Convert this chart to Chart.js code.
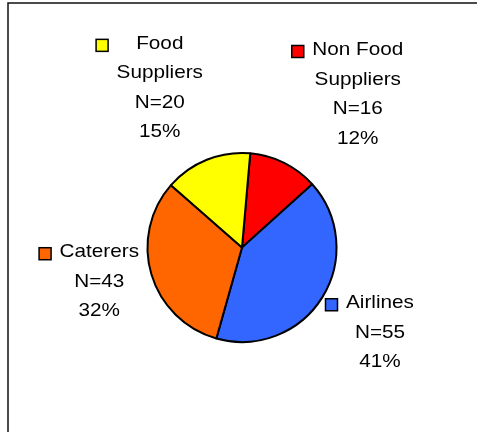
<!DOCTYPE html>
<html>
<head>
<meta charset="utf-8">
<script src="https://cdn.jsdelivr.net/npm/chart.js@4/dist/chart.umd.min.js"></script>
<style>
    html, body { margin: 0; padding: 0; background: #fff; }
    canvas { display: block; }
</style>
</head>
<body>
<canvas id="pieChart" width="477" height="432"></canvas>
<script>
//分类 (顺时针, 从顶部开始)
var categories = ["Non Food Suppliers", "Airlines", "Caterers", "Food Suppliers"];
//标签里的名称分行
var nameLines = [["Non Food", "Suppliers"], ["Airlines"], ["Caterers"], ["Food", "Suppliers"]];
//样本数
var counts = [16, 55, 43, 20];
//扇区颜色
var sliceColors = ["#FF0000", "#3366FF", "#FF6600", "#FFFF00"];

//标签位置 (相对圆心, 以半径为单位)
var labelPlace = [
    { dx: 1.225, dy: -2.09 },
    { dx: 1.46, dy: 0.59 },
    { dx: -1.51, dy: 0.05 },
    { dx: -0.87, dy: -2.155 }
];

//外框
var framePlugin = {
    id: "frame",
    beforeDraw: function (chart) {
        var ctx = chart.ctx;
        ctx.save();
        ctx.fillStyle = "#fff";
        ctx.fillRect(0, 0, chart.width, chart.height);
        ctx.strokeStyle = "#111";
        ctx.lineWidth = 1.5;
        ctx.beginPath();
        ctx.moveTo(8, chart.height);
        ctx.lineTo(8, 3);
        ctx.lineTo(chart.width, 3);
        ctx.stroke();
        ctx.restore();
    }
};

//数据标签 (图例方块 + 名称 + N + 百分比)
var labelPlugin = {
    id: "pieLabels",
    afterDatasetsDraw: function (chart) {
        var ctx = chart.ctx;
        var meta = chart.getDatasetMeta(0);
        var data = chart.data.datasets[0].data;
        var total = data.reduce(function (a, b) { return a + b; }, 0);
        var sx = 1.12, lineH = 29.5;
        ctx.save();
        ctx.font = "18.5px 'Liberation Sans', Arial, sans-serif";
        ctx.fillStyle = "#000";
        ctx.textAlign = "center";
        ctx.textBaseline = "middle";
        meta.data.forEach(function (arc, i) {
            var p = arc.getProps(["x", "y", "outerRadius"], true);
            var cx = p.x + labelPlace[i].dx * p.outerRadius;
            var y0 = p.y + labelPlace[i].dy * p.outerRadius;
            var lines = nameLines[i].concat(["N=" + data[i], Math.round(data[i] / total * 100) + "%"]);
            var maxW = 0;
            lines.forEach(function (t, k) {
                maxW = Math.max(maxW, ctx.measureText(t).width * sx);
                ctx.save();
                ctx.translate(cx, y0 + k * lineH);
                ctx.scale(sx, 1);
                ctx.fillText(t, 0, 0);
                ctx.restore();
            });
            //图例方块
            var kx = cx - maxW / 2 - 8.5 - 12;
            var ky = y0 + 1.5 - 6;
            ctx.fillStyle = sliceColors[i];
            ctx.fillRect(kx, ky, 12, 12);
            ctx.lineWidth = 1.5;
            ctx.strokeStyle = "#000";
            ctx.strokeRect(kx, ky, 12, 12);
            ctx.fillStyle = "#000";
        });
        ctx.restore();
    }
};

function initChart() {
    var pieCanvas = document.getElementById("pieChart").getContext("2d");
    new Chart(pieCanvas, {
        type: "pie",
        data: {
            labels: categories,
            datasets: [{
                data: counts,
                backgroundColor: sliceColors,
                borderColor: "#000",
                borderWidth: 2
            }]
        },
        options: {
            responsive: false,
            animation: false,
            rotation: 5,
            layout: { padding: { left: 146, right: 139, top: 152, bottom: 89 } },
            plugins: {
                legend: { display: false },
                tooltip: { enabled: false }
            }
        },
        plugins: [framePlugin, labelPlugin]
    });
}

initChart();
</script>
</body>
</html>
